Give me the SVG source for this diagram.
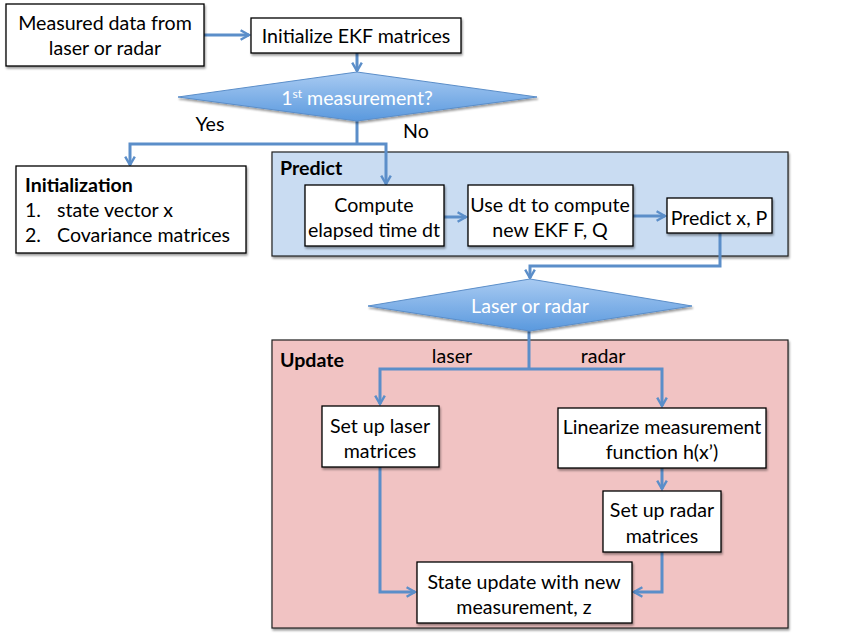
<svg xmlns="http://www.w3.org/2000/svg" width="852" height="638" viewBox="0 0 852 638">
<defs>
<linearGradient id="dg" x1="0" y1="0" x2="0" y2="1">
<stop offset="0" stop-color="#A9CBF2"/>
<stop offset="1" stop-color="#5A99DE"/>
</linearGradient>
<filter id="sh" x="-10%" y="-10%" width="130%" height="130%">
<feGaussianBlur in="SourceAlpha" stdDeviation="1.2"/>
<feOffset dx="1" dy="1.5" result="b"/>
<feComponentTransfer><feFuncA type="linear" slope="0.4"/></feComponentTransfer>
<feMerge><feMergeNode/><feMergeNode in="SourceGraphic"/></feMerge>
</filter>
<marker id="ah" viewBox="0 0 10 10" refX="8" refY="5" markerWidth="4" markerHeight="4" orient="auto" markerUnits="strokeWidth">
<path d="M1,1 L8,5 L1,9" fill="none" stroke="#5B8EC9" stroke-width="2" stroke-linejoin="miter"/>
</marker>
</defs>
<style>
text{font-family:"Lato","Open Sans","Liberation Sans",sans-serif;font-size:19.6px;fill:#000}
.c{text-anchor:middle}
.b{font-weight:bold}
.w{fill:#fff}
.box{fill:#fff;stroke:#000;stroke-width:1.3}
.panel{stroke:#222;stroke-width:1.2}
.dia{fill:url(#dg);stroke:#5B8EC9;stroke-width:1}
.con{fill:none;stroke:#5B8EC9;stroke-width:3}
.arr{marker-end:url(#ah)}
</style>
<rect width="852" height="638" fill="#fff"/>

<g id="predict-panel">
<rect class="panel" x="272" y="152" width="516" height="104" fill="#C9DCF2" filter="url(#sh)"/>
<text class="b" x="280" y="175">Predict</text>
</g>
<g id="update-panel">
<rect class="panel" x="272" y="340" width="516" height="288" fill="#F1C3C3" filter="url(#sh)"/>
<text class="b" x="280" y="367">Update</text>
</g>

<g id="connectors">
<path class="con arr" d="M204,35 H249"/>
<path class="con arr" d="M357,53 V71"/>
<path class="con" d="M357,121 V144"/>
<path class="con arr" d="M357,144 H130 V165"/>
<path class="con arr" d="M357,144 H386 V184"/>
<path class="con arr" d="M444,217 H466"/>
<path class="con arr" d="M633,216 H665"/>
<path class="con arr" d="M720,233 V266 H530 V278"/>
<path class="con" d="M529,331 V369"/>
<path class="con arr" d="M529,369 H380 V404"/>
<path class="con arr" d="M529,369 H662 V406"/>
<path class="con arr" d="M662,468 V489"/>
<path class="con arr" d="M380,467 V592 H415"/>
<path class="con arr" d="M662,552 V592 H634"/>
</g>

<g id="measured">
<rect class="box" x="6" y="4" width="198" height="62" filter="url(#sh)"/>
<text class="c" x="105" y="30">Measured data from</text>
<text class="c" x="105" y="55">laser or radar</text>
</g>
<g id="init-ekf">
<rect class="box" x="251" y="18" width="210" height="35" filter="url(#sh)"/>
<text class="c" x="356" y="43">Initialize EKF matrices</text>
</g>
<g id="first-meas">
<polygon class="dia" points="178,97 357,72 537,97 357,121" filter="url(#sh)"/>
<text class="c w" x="357" y="105">1<tspan font-size="12" dy="-7">st</tspan><tspan dy="7"> measurement?</tspan></text>
</g>
<g id="labels-1">
<text class="c" x="210" y="131">Yes</text>
<text class="c" x="416" y="138">No</text>
</g>
<g id="initialization">
<rect class="box" x="16" y="166" width="230" height="87" filter="url(#sh)"/>
<text class="b" x="25" y="192">Initialization</text>
<text x="25" y="217">1.</text>
<text x="57" y="217">state vector x</text>
<text x="25" y="242">2.</text>
<text x="57" y="242">Covariance matrices</text>
</g>
<g id="compute-dt">
<rect class="box" x="305" y="185" width="139" height="61" filter="url(#sh)"/>
<text class="c" x="374" y="212">Compute</text>
<text class="c" x="374" y="237">elapsed time dt</text>
</g>
<g id="use-dt">
<rect class="box" x="468" y="185" width="165" height="61" filter="url(#sh)"/>
<text class="c" x="550" y="212">Use dt to compute</text>
<text class="c" x="550" y="237">new EKF F, Q</text>
</g>
<g id="predict-xp">
<rect class="box" x="667" y="198" width="105" height="35" filter="url(#sh)"/>
<text class="c" x="719" y="225">Predict x, P</text>
</g>
<g id="laser-radar">
<polygon class="dia" points="368,306 530,279 692,306 530,331" filter="url(#sh)"/>
<text class="c w" x="530" y="313">Laser or radar</text>
</g>
<g id="labels-2">
<text class="c" x="452" y="363">laser</text>
<text class="c" x="603" y="363">radar</text>
</g>
<g id="setup-laser">
<rect class="box" x="322" y="406" width="117" height="61" filter="url(#sh)"/>
<text class="c" x="380" y="433">Set up laser</text>
<text class="c" x="380" y="458">matrices</text>
</g>
<g id="linearize">
<rect class="box" x="558" y="408" width="208" height="60" filter="url(#sh)"/>
<text class="c" x="662" y="434">Linearize measurement</text>
<text class="c" x="662" y="459">function h(x’)</text>
</g>
<g id="setup-radar">
<rect class="box" x="603" y="491" width="118" height="61" filter="url(#sh)"/>
<text class="c" x="662" y="517">Set up radar</text>
<text class="c" x="662" y="543">matrices</text>
</g>
<g id="state-update">
<rect class="box" x="417" y="562" width="215" height="61" filter="url(#sh)"/>
<text class="c" x="524" y="589">State update with new</text>
<text class="c" x="524" y="614">measurement, z</text>
</g>
</svg>
